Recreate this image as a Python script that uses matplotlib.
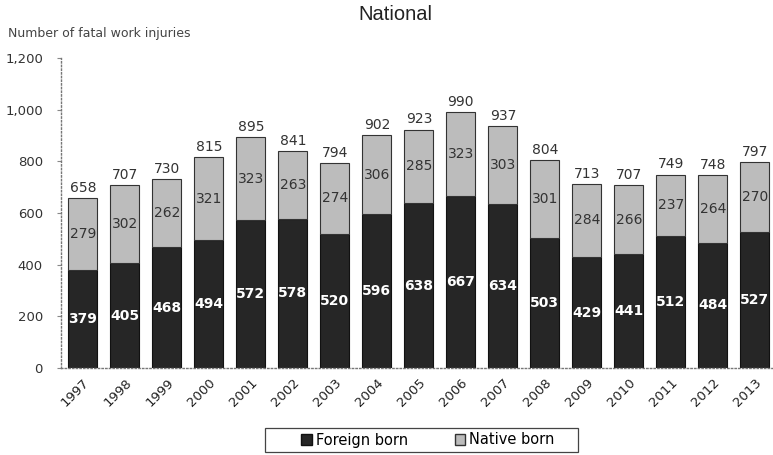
import matplotlib
matplotlib.use('Agg')
import matplotlib.pyplot as plt
import numpy as np

years = ['1997', '1998', '1999', '2000', '2001', '2002', '2003', '2004', '2005',
         '2006', '2007', '2008', '2009', '2010', '2011', '2012', '2013']
foreign_born = [379, 405, 468, 494, 572, 578, 520, 596, 638,
                667, 634, 503, 429, 441, 512, 484, 527]
native_born = [279, 302, 262, 321, 323, 263, 274, 306, 285,
               323, 303, 301, 284, 266, 237, 264, 270]

plt.rcParams['font.family'] = ['DejaVu Sans']

W, H = 773, 455
fig = plt.figure(figsize=(W / 100, H / 100), dpi=100)
# last bar sits close to the right edge, like the cropped original
ax = fig.add_axes([61 / W, (H - 368) / H, 715.7 / W, 310 / H])

x = np.arange(len(years))
totals = np.array(foreign_born) + np.array(native_born)

dark = '#262626'
light = '#bcbcbc'
ax.bar(x, foreign_born, width=0.69, color=dark, edgecolor='#111111', linewidth=0.8)
ax.bar(x, native_born, bottom=foreign_born, width=0.69, color=light,
       edgecolor='#333333', linewidth=0.8)

for i in range(len(years)):
    ax.text(x[i], foreign_born[i] / 2, str(foreign_born[i]), ha='center', va='center',
            color='white', fontsize=10, fontweight='bold')
    ax.text(x[i], foreign_born[i] + native_born[i] / 2, str(native_born[i]),
            ha='center', va='center', color='#333333', fontsize=10)
    ax.text(x[i], totals[i] + 12, str(totals[i]), ha='center', va='bottom',
            color='#333333', fontsize=10)

ax.set_xlim(-0.52, 16.52)
ax.set_ylim(0, 1200)
ax.set_yticks(range(0, 1201, 200))
ax.set_yticklabels(['0', '200', '400', '600', '800', '1,000', '1,200'],
                   fontsize=9.5, color='#333333')
ax.set_xticks(x)
ax.set_xticklabels(years, rotation=45, ha='right', rotation_mode='anchor',
                   fontsize=9.5, color='#222222')
ax.tick_params(axis='x', length=0, pad=6)
ax.tick_params(axis='y', length=3, color='#888888', pad=10)

for side in ['top', 'right']:
    ax.spines[side].set_visible(False)
for side in ['left', 'bottom']:
    ax.spines[side].set_linestyle(':')
    ax.spines[side].set_color('#777777')
    ax.spines[side].set_linewidth(1)

fig.text(8 / W, 1 - 33 / H, 'Number of fatal work injuries', fontsize=9,
         color='#444444', va='center', ha='left')
fig.text(395 / W, 1 - 15 / H, 'National', fontsize=14.5, color='#222222',
         ha='center', va='center', family='Liberation Sans')

# legend box drawn by hand, it is wider than the entries
fig.patches.append(plt.Rectangle((265 / W, 1 - 452 / H), 313 / W, 24 / H,
                                 transform=fig.transFigure, fill=False,
                                 edgecolor='#444444', linewidth=0.9))
handles = [plt.Rectangle((0, 0), 1, 1, facecolor=dark, edgecolor='#111111'),
           plt.Rectangle((0, 0), 1, 1, facecolor=light, edgecolor='#333333')]
fig.legend(handles, ['Foreign born', 'Native born'], loc='center',
           bbox_to_anchor=(428 / W, 1 - 440 / H), ncol=2, fontsize=10.5,
           frameon=False, handlelength=0.7, handleheight=0.7,
           handletextpad=0.3, columnspacing=3.2, borderpad=0.3)

fig.savefig('out.png', dpi=100)
